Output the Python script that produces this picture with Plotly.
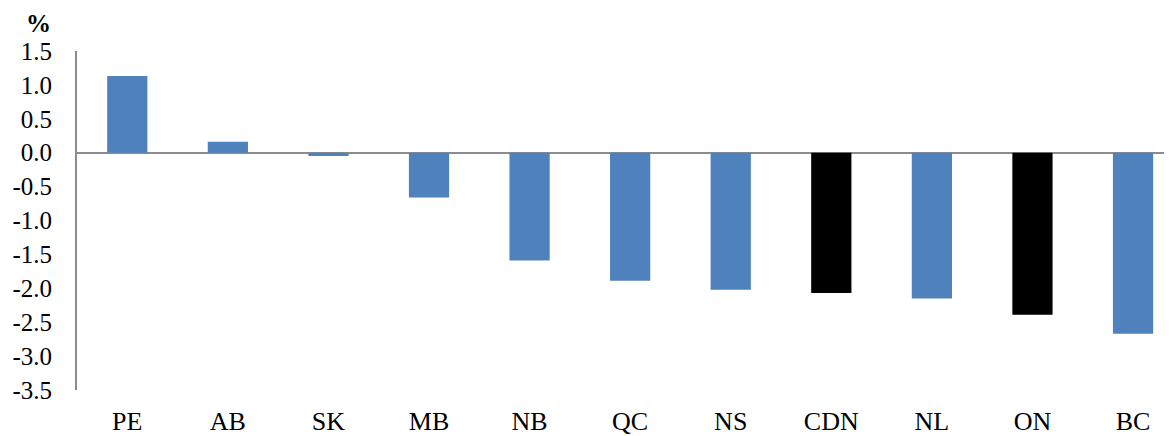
import plotly.graph_objects as go

regions = ["PE", "AB", "SK", "MB", "NB", "QC", "NS", "CDN", "NL", "ON", "BC"]
change_pct = [1.13, 0.16, -0.05, -0.66, -1.59, -1.89, -2.02, -2.07, -2.15, -2.39, -2.67]
highlight = {"CDN", "ON"}

y_ticks = [1.5, 1.0, 0.5, 0.0, -0.5, -1.0, -1.5, -2.0, -2.5, -3.0, -3.5]

colors = ["#000000" if r in highlight else "#4F81BD" for r in regions]
font = "Liberation Serif, Times New Roman, serif"

fig = go.Figure(go.Bar(
    x=regions, y=change_pct,
    marker=dict(color=colors, line=dict(width=0)),
))

# page body has an 8px margin, so everything is offset by that
fig.update_layout(
    width=1172, height=436,
    margin=dict(l=69, r=0, t=43, b=54, autoexpand=False),
    paper_bgcolor="white", plot_bgcolor="white",
    bargap=0.6, showlegend=False,
    font=dict(family=font, size=24, color="black"),
)
fig.update_xaxes(
    range=[-0.5, 10.467], showline=False, showgrid=False, zeroline=False,
    ticks="", ticklabelstandoff=13, automargin=False,
    tickfont=dict(size=26),
)
fig.update_yaxes(
    range=[-3.5, 1.5], tickvals=y_ticks, ticktext=[f"{v:.1f}" for v in y_ticks],
    showgrid=False, showline=True, linecolor="#8c8c8c", linewidth=2,
    zeroline=True, zerolinecolor="#8c8c8c", zerolinewidth=2,
    ticks="", ticklabelstandoff=18, automargin=False,
    tickfont=dict(size=25),
)
fig.add_annotation(
    text="<b>%</b>", xref="paper", yref="paper", x=-0.035, y=1.0, yshift=28,
    xanchor="center", yanchor="middle", showarrow=False,
    font=dict(family=font, size=25, color="black"),
)

fig.write_html("out.html")
